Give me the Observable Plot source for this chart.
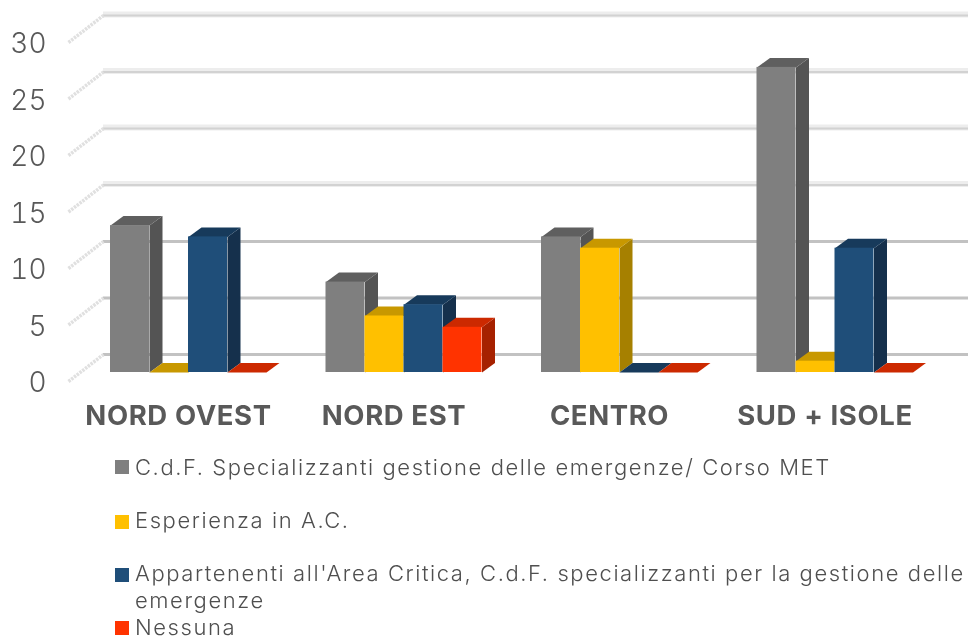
<!DOCTYPE html>
<html><head><meta charset="utf-8">
<script src="https://cdn.jsdelivr.net/npm/d3@7"></script>
<script src="https://cdn.jsdelivr.net/npm/@observablehq/plot@0.6"></script>
<style>
html,body{margin:0;padding:0;background:#fff;overflow:hidden}
#chart svg{display:block;filter:blur(.65px);background:#fff}
#chart g[aria-label="text"] text{letter-spacing:.6px}
#legend{font-family:Inter,sans-serif;font-size:22px;font-weight:300;color:#4f4f4f;position:absolute;left:115px;top:0;width:853px;filter:blur(.4px)}
.it{position:absolute;left:20px;line-height:27px;white-space:pre;letter-spacing:1.58px}
.sw{position:absolute;left:0;width:14px;height:14px}
</style></head><body>
<div id="chart"></div><div id="legend"></div>
<script>
const categories = ["NORD OVEST", "NORD EST", "CENTRO", "SUD + ISOLE"];
const seriesNames = [
  "C.d.F. Specializzanti gestione delle emergenze/ Corso MET",
  "Esperienza in A.C.",
  "Appartenenti all'Area Critica, C.d.F. specializzanti per la gestione delle\nemergenze",
  "Nessuna"
];
const specializzanti = [13, 8, 12, 27];
const esperienza = [0, 5, 11, 1];
const appartenenti = [12, 6, 0, 11];
const nessuna = [0, 4, 0, 0];
const yTicks = [0, 5, 10, 15, 20, 25, 30];
const bandTicks = [15, 20, 25, 30];
const frontColors = ["#7f7f7f", "#ffc000", "#1f4e79", "#ff3300"];
const topColors = ["#5f5f5f", "#c89800", "#173a5b", "#cc2900"];
const sideColors = ["#545454", "#a68000", "#15304c", "#a62100"];

const seriesValues = [specializzanti, esperienza, appartenenti, nessuna];
const barW = 39 / 215.5, depthX = 13 / 215.5, depthY = 9.5 / 11.3;
const labelShift = -10 / 215.5;
const bars = [];
categories.forEach((c, i) => seriesValues.forEach((vals, s) => bars.push({i, s, v: vals[i], x0: i + s * barW, x1: i + (s + 1) * barW})));

const marks = [
  // back-wall gridlines
  Plot.ruleY(bandTicks, {x1: -7 / 215.5, x2: 4, stroke: "#ededed", strokeWidth: 6, dy: -19}),
  Plot.ruleY(yTicks, {x1: -7 / 215.5, x2: 4, stroke: d => d >= 15 ? "#d2d2d2" : "#c2c2c2", strokeWidth: d => d >= 15 ? 2 : 3, dy: -18}),
  // side-wall strokes
  Plot.link(yTicks, {x1: -42 / 215.5, x2: -7 / 215.5, y1: d => d, y2: d => d + 27 / 11.3, dy: 9, stroke: "#e0e0e0", strokeWidth: 3.5, strokeDasharray: "2.5 1"})
];
for (const b of bars) {
  const side = [[b.x1, 0], [b.x1 + depthX, depthY], [b.x1 + depthX, b.v + depthY], [b.x1, b.v]];
  const top = [[b.x0, b.v], [b.x0 + depthX, b.v + depthY], [b.x1 + depthX, b.v + depthY], [b.x1, b.v]];
  marks.push(
    Plot.line(side, {x: "0", y: "1", fill: sideColors[b.s], stroke: "none"}),
    Plot.line(top, {x: "0", y: "1", fill: topColors[b.s], stroke: "none"}),
    Plot.rect([b], {x1: "x0", x2: "x1", y1: 0, y2: "v", fill: frontColors[b.s]})
  );
}
marks.push(
  Plot.axisY({anchor: "left", ticks: yTicks, tickSize: 0, tickPadding: 0, dy: 11, fontSize: 28, label: null, color: "#595959", fontWeight: 300}),
  Plot.text(categories, {x: (d, i) => i + 2 * barW + labelShift, y: 0, dy: 44, text: d => d, fontSize: 27.5, fontWeight: 700, fill: "#595959"})
);

const chart = Plot.plot({
  width: 968, height: 445,
  marginLeft: 46, marginRight: 0, marginTop: 0, marginBottom: 0,
  style: {fontFamily: "Inter, sans-serif", background: "#fff", overflow: "hidden"},
  x: {domain: [-(110 - 46) / 215.5, (968 - 110) / 215.5], axis: null},
  y: {domain: [0, 30], range: [372, 33], axis: null},
  marks
});
document.getElementById("chart").append(chart);

const legend = document.getElementById("legend");
const rowsY = [454, 507, 560, 614];
const swY = [460, 515, 568, 621];
seriesNames.forEach((name, k) => {
  const sw = document.createElement("div");
  sw.className = "sw"; sw.style.top = swY[k] + "px"; sw.style.background = frontColors[k];
  const it = document.createElement("div");
  it.className = "it"; it.style.top = rowsY[k] + "px"; it.textContent = name;
  legend.append(sw, it);
});
</script></body></html>
